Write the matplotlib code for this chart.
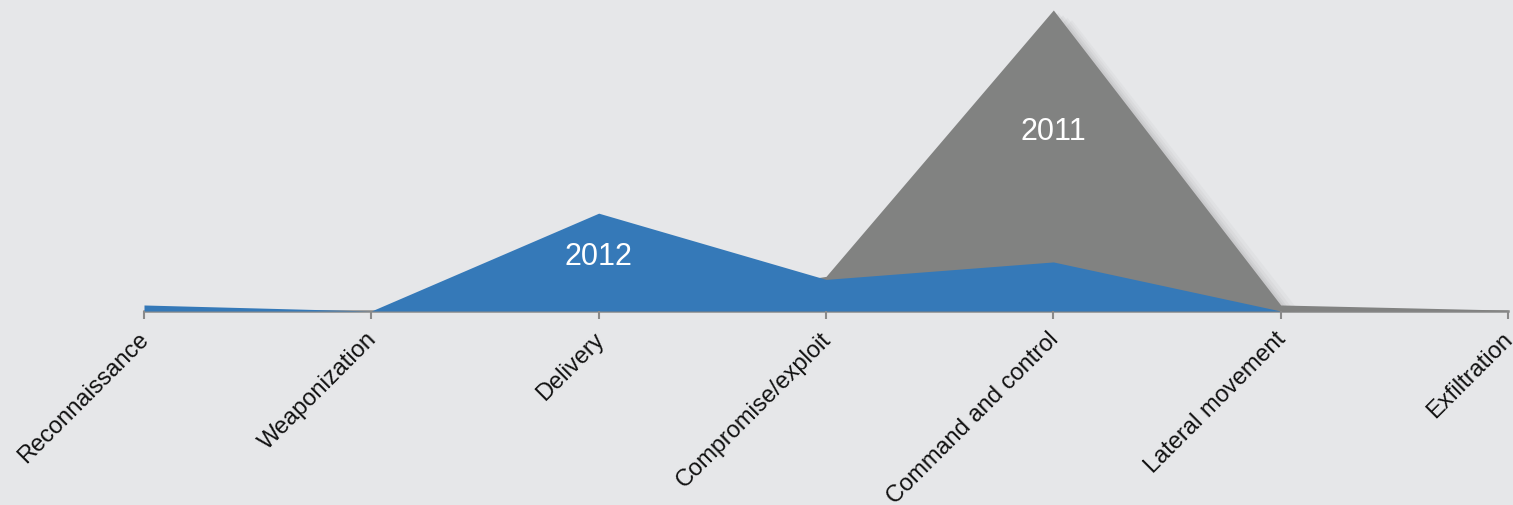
import matplotlib
matplotlib.use("Agg")
import matplotlib.pyplot as plt
import matplotlib.transforms as mtransforms
import numpy as np

plt.rcParams['font.family'] = ['Liberation Sans', 'DejaVu Sans']

categories = ["Reconnaissance", "Weaponization", "Delivery", "Compromise/exploit",
              "Command and control", "Lateral movement", "Exfiltration"]
series_2011 = [0, 0, 0, 11.5, 100, 2.0, 0.3]
series_2012 = [2.0, 0, 32.5, 10.5, 16.3, 0, 0]

fig = plt.figure(figsize=(15.13, 5.05), dpi=100)
bg = "#e6e7e9"
fig.patch.set_facecolor(bg)
ax = fig.add_axes([144/1513, (505-311)/505, (1508-144)/1513, (311-10)/505])
ax.set_facecolor(bg)
ax.patch.set_alpha(0)

x = np.arange(len(categories))
y11 = np.array(series_2011)

# soft shadow for 2011 area (only where the area is above zero)
mask = slice(2, 6)
for dx, dy, a in [(0.02, -0.8, 0.06), (0.04, -1.6, 0.05), (0.06, -2.4, 0.04), (0.08, -3.2, 0.03)]:
    ax.fill_between(x[mask] + dx, np.clip(y11[mask] + dy, 0, None), 0, color="#404040", alpha=a, lw=0)

ax.fill_between(x, series_2011, 0, color="#818281", lw=0, clip_on=False)
ax.fill_between(x, series_2012, 0, color="#3579b8", lw=0, clip_on=False)

ax.text(2, 18, "2012", color="white", fontsize=22, ha="center", va="center")
ax.text(4, 59.5, "2011", color="white", fontsize=22, ha="center", va="center")

ax.set_xlim(0, len(categories) - 1)
ax.set_ylim(0, 100)
ax.set_yticks([])
for s in ["top", "right", "left"]:
    ax.spines[s].set_visible(False)
ax.spines["bottom"].set_color("#8a8a8a")
ax.spines["bottom"].set_linewidth(1.8)
ax.spines["bottom"].set_zorder(0.5)
ax.set_xticks(x)
ax.set_xticklabels(categories, rotation=45, ha="right", va="top", rotation_mode="anchor",
                   fontsize=17, color="#111111")
ax.tick_params(axis="x", length=6, width=1.5, color="#8a8a8a", pad=8)
offset = mtransforms.ScaledTranslation(-6/100, 2/100, fig.dpi_scale_trans)
for lbl in ax.get_xticklabels():
    lbl.set_transform(lbl.get_transform() + offset)

fig.savefig("out.png", dpi=100, facecolor=bg)
